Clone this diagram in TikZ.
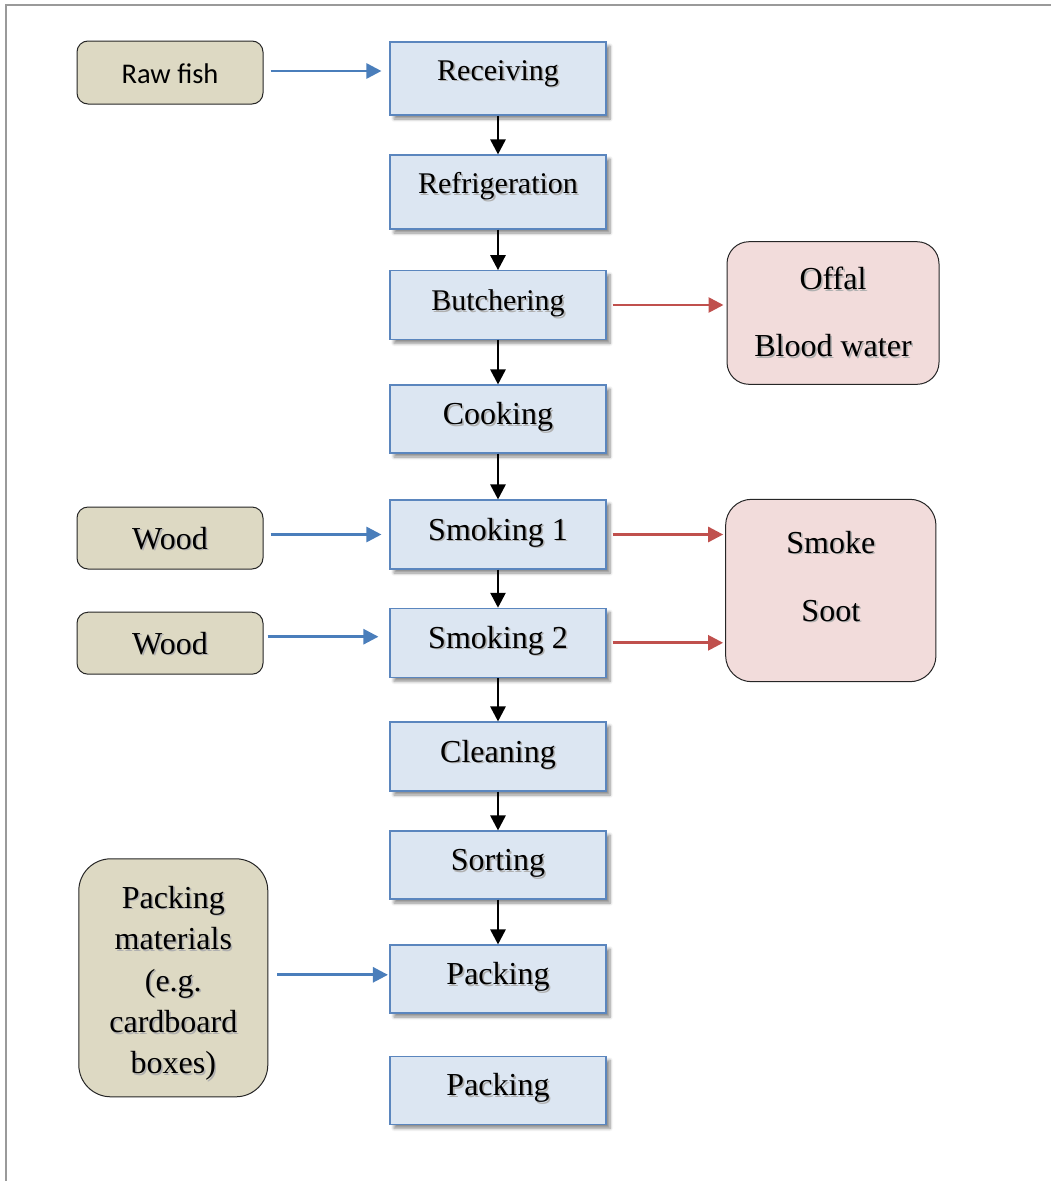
\documentclass[tikz,border=0pt]{standalone}
\usepackage{fontspec}
\setmainfont{Liberation Serif}
\newfontfamily\carlito{Carlito}
\usetikzlibrary{arrows.meta,shadows.blur}
\definecolor{boxblue}{HTML}{DCE6F2}
\definecolor{boxedge}{HTML}{5B86BE}
\definecolor{tanfill}{HTML}{DDD9C3}
\definecolor{pinkfill}{HTML}{F2DCDB}
\definecolor{bluearr}{HTML}{4A7EBB}
\definecolor{redarr}{HTML}{C0504D}
\definecolor{framec}{HTML}{9A9A9A}
\definecolor{shadowc}{HTML}{B0B0B0}
\newcommand\sh[1]{\leavevmode\rlap{\kern1.6pt\raisebox{-1.6pt}{\color{shadowc}#1}}#1}
\newcommand\lift[2]{\raisebox{#1}[\height][\depth]{#2}}
\tikzset{
  stepbox/.style={draw=boxedge, line width=1.1pt, fill=boxblue, minimum width=216pt,
    inner sep=0pt, font=\fontsize{32}{38}\selectfont, text height=21pt, text depth=10pt,
    blur shadow={shadow xshift=4pt, shadow yshift=-4pt, shadow blur radius=3pt, shadow blur steps=6, shadow opacity=45}},
  hi/.style={text depth=18pt, font=\fontsize{30}{36}\selectfont},
  inbox/.style={draw=black!85, line width=1pt, fill=tanfill, rounded corners=#1,
    inner sep=0pt, font=\fontsize{32}{38}\selectfont},
  outbox/.style={draw=black!85, line width=1pt, fill=pinkfill, rounded corners=#1,
    inner sep=0pt, font=\fontsize{32}{38}\selectfont},
  flat/.style={text height=22pt, text depth=0pt},
  darr/.style={draw=black, line width=2.7pt, -{Triangle[length=15pt,width=15pt]}},
  barr/.style={draw=bluearr, line width=2.7pt, -{Triangle[length=15pt,width=15pt]}},
  rarr/.style={draw=redarr, line width=2.7pt, -{Triangle[length=15pt,width=15pt]}}
}
\begin{document}
\begin{tikzpicture}[x=1pt,y=-1pt]
\useasboundingbox (0,0) rectangle (1051,1181);
\draw[framec, line width=2pt] (6,1181) -- (6,5) -- (1051,5);

% main column
\node[stepbox, hi, minimum height=73pt] (rec) at (498,78.5) {\sh{Receiving}};
\node[stepbox, hi, minimum height=74pt] (ref) at (498,192) {\sh{Refrigeration}};
\node[stepbox, minimum height=68.6pt, font=\fontsize{30}{36}\selectfont] (but) at (498,305) {\sh{Butchering}};
\node[stepbox, minimum height=68pt] (cook) at (498,419) {\sh{Cooking}};
\node[stepbox, minimum height=69pt] (smk1) at (498,534.5) {\sh{Smoking 1}};
\node[stepbox, minimum height=69pt] (smk2) at (498,642.8) {\sh{Smoking 2}};
\node[stepbox, minimum height=69pt] (clean) at (498,756.5) {\sh{Cleaning}};
\node[stepbox, minimum height=68pt] (sort) at (498,865) {\sh{Sorting}};
\node[stepbox, minimum height=68pt] (pack) at (498,979) {\sh{Packing}};
\node[stepbox, minimum height=68pt] (pack2) at (498,1090.3) {\sh{Packing}};

% inputs
\node[inbox=11pt, flat, minimum width=186pt, minimum height=63pt, font=\carlito\fontsize{28.5}{34}\selectfont] (raw) at (170,72.5) {Raw fish};
\node[inbox=11pt, flat, minimum width=186pt, minimum height=62pt] (wood1) at (170,538) {\sh{Wood}};
\node[inbox=11pt, flat, minimum width=186pt, minimum height=62pt] (wood2) at (170,643.2) {\sh{Wood}};
\node[inbox=32pt, minimum width=189pt, minimum height=238pt] (packmat) at (173.3,977.8)
  {\lift{-5pt}{\fontsize{32}{41.4}\selectfont\begin{tabular}{@{}c@{}}\sh{Packing}\\\sh{materials}\\\sh{(e.g.}\\\sh{cardboard}\\\sh{boxes)}\end{tabular}}};

% outputs
\node[outbox=22pt, minimum width=212pt, minimum height=142.6pt] (offal) at (833,313)
  {\lift{3pt}{\fontsize{32}{67}\selectfont\begin{tabular}{@{}c@{}}\sh{Offal}\\\sh{Blood water}\end{tabular}}};
\node[outbox=26pt, minimum width=210.3pt, minimum height=182.4pt] (smoke) at (830.8,590.5)
  {\lift{16.8pt}{\fontsize{32}{68}\selectfont\begin{tabular}{@{}c@{}}\sh{Smoke}\\\sh{Soot}\end{tabular}}};

% main flow
\draw[darr] (rec) -- (ref);
\draw[darr] (ref) -- (but);
\draw[darr] (but) -- (cook);
\draw[darr] (cook) -- (smk1);
\draw[darr] (smk1) -- (smk2);
\draw[darr] (smk2) -- (clean);
\draw[darr] (clean) -- (sort);
\draw[darr] (sort) -- (pack);

% input arrows
\draw[barr, shorten <=7pt, shorten >=8pt] ([yshift=1.5pt]raw.east) -- ([yshift=1.5pt]raw.east -| rec.west);
\draw[barr, shorten <=7pt, shorten >=8pt] (smk1.west -| wood1.east) -- (smk1.west);
\draw[barr, shorten <=4pt, shorten >=11pt] ([yshift=6.5pt]wood2.east) -- ([yshift=6.5pt]wood2.east -| smk2.west);
\draw[barr, shorten <=9pt, shorten >=1.5pt] ([yshift=3pt]packmat.east) -- ([yshift=3pt]packmat.east -| pack.west);

% output arrows
\draw[rarr, shorten <=6pt, shorten >=3pt] (but.east) -- (but.east -| offal.west);
\draw[rarr, shorten <=6pt, shorten >=2pt] (smk1.east) -- (smk1.east -| smoke.west);
\draw[rarr, shorten <=6pt, shorten >=2pt] (smk2.east) -- (smk2.east -| smoke.west);
\end{tikzpicture}
\end{document}
